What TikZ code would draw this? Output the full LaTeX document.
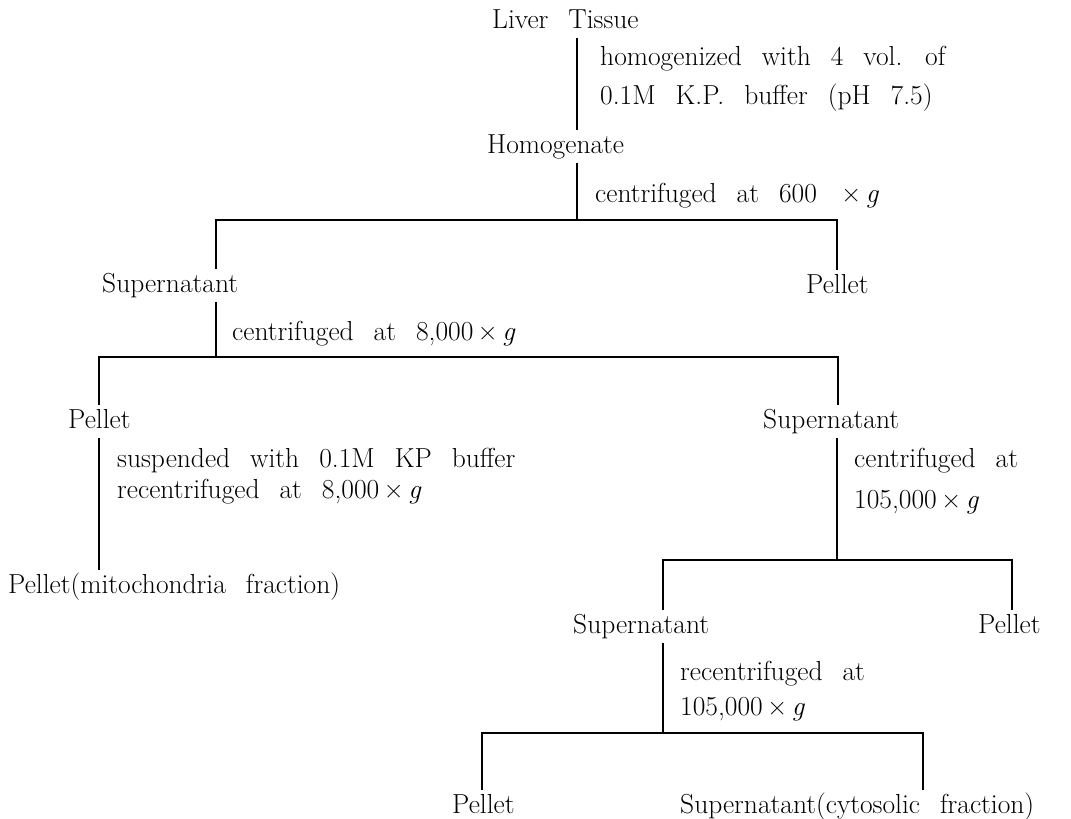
\documentclass[tikz,border=0pt]{standalone}
\usepackage{tikz}
\usetikzlibrary{calc}
\newcommand{\lblfont}{\fontsize{27.5}{33}\selectfont\spaceskip=20pt plus 1pt minus 1pt\relax}
\newcommand{\xg}{\,×\,\textit{g}}
\tikzset{lbl/.style={anchor=base west, inner xsep=0pt, inner ysep=4pt,
    text height=19pt, text depth=6pt, font=\lblfont},
  tree/.style={line width=1.2pt}}
\begin{document}
\begin{tikzpicture}[x=1pt,y=-1pt]
\useasboundingbox (0,0) rectangle (1071,819);

\node[lbl] (T) at (492,28) {Liver Tissue};
\node[lbl] (s1a) at (600,65) {homogenized with 4 vol. of};
\node[lbl] (s1b) at (600,104) {0.1M K.P. buffer (pH 7.5)};
\node[lbl] (H) at (487,153) {Homogenate};
\node[lbl] (s2) at (595,202) {centrifuged at 600 \xg};

\node[lbl] (S1) at (102,292) {Supernatant};
\node[lbl] (P1) at (806,293) {Pellet};
\node[lbl] (s3) at (232,340) {centrifuged at 8,000\xg};

\node[lbl] (P2) at (68,428) {Pellet};
\node[lbl] (S2) at (763,428) {Supernatant};
\node[lbl] (s4a) at (117,467) {suspended with 0.1M KP buffer};
\node[lbl] (s4b) at (117,498) {recentrifuged at 8,000\xg};
\node[lbl] (s5a) at (854,467) {centrifuged at};
\node[lbl] (s5b) at (854,508) {105,000\xg};
\node[lbl] (M) at (8,593) {Pellet(mitochondria fraction)};

\node[lbl] (S3) at (573,633) {Supernatant};
\node[lbl] (P3) at (978,633) {Pellet};
\node[lbl] (s6a) at (680,680) {recentrifuged at};
\node[lbl] (s6b) at (680,715) {105,000\xg};

\node[lbl] (P4) at (452,813) {Pellet};
\node[lbl] (C) at (680,813) {Supernatant(cytosolic fraction)};

% branch points
\coordinate (j1) at (577,220);
\coordinate (b1l) at (216,220);
\coordinate (b1r) at (837,220);
\coordinate (j2) at (216,357);
\coordinate (b2l) at (99,357);
\coordinate (b2r) at (838,357);
\coordinate (j3) at (837,560);
\coordinate (b3l) at (663,560);
\coordinate (b3r) at (1012,560);
\coordinate (j4) at (663,733);
\coordinate (b4l) at (482,733);
\coordinate (b4r) at (923,733);

\draw[tree] (T.south -| j1) -- (H.north -| j1);
\draw[tree] (H.south -| j1) -- (j1);
\draw[tree] (S1.north -| b1l) -- (b1l) -- (b1r) -- (P1.north -| b1r);

\draw[tree] (S1.south -| j2) -- (j2);
\draw[tree] (P2.north -| b2l) -- (b2l) -- (b2r) -- (S2.north -| b2r);
\draw[tree] (P2.south -| b2l) -- (M.north -| b2l);

\draw[tree] (S2.south -| j3) -- (j3);
\draw[tree] (S3.north -| b3l) -- (b3l) -- (b3r) -- (P3.north -| b3r);

\draw[tree] (S3.south -| j4) -- (j4);
\draw[tree] (P4.north -| b4l) -- (b4l) -- (b4r) -- (C.north -| b4r);
\end{tikzpicture}
\end{document}
